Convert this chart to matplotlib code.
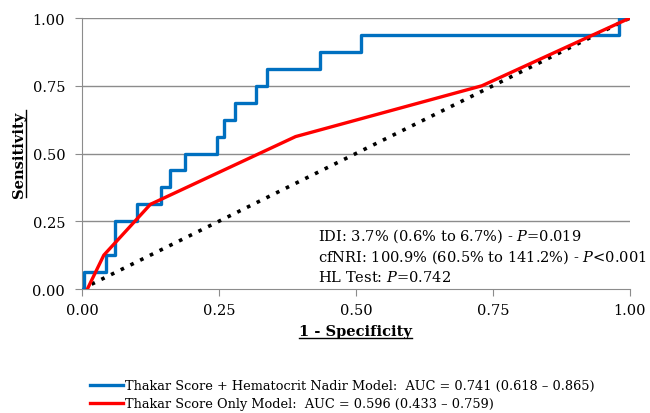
import numpy as np
import matplotlib
matplotlib.use('Agg')
import matplotlib.pyplot as plt
from matplotlib.lines import Line2D

# ROC points (1 - specificity, sensitivity)
combo_fpr = [0.0, 0.004, 0.004, 0.044, 0.044, 0.060, 0.060, 0.100, 0.100, 0.145, 0.145,
             0.160, 0.160, 0.189, 0.189, 0.247, 0.247, 0.259, 0.259, 0.279, 0.279,
             0.317, 0.317, 0.337, 0.337, 0.434, 0.434, 0.510, 0.510, 0.981, 0.981, 1.0]
combo_tpr = [0.0, 0.0, 0.0625, 0.0625, 0.125, 0.125, 0.25, 0.25, 0.3125, 0.3125, 0.375,
             0.375, 0.4375, 0.4375, 0.5, 0.5, 0.5625, 0.5625, 0.625, 0.625, 0.6875,
             0.6875, 0.75, 0.75, 0.8125, 0.8125, 0.875, 0.875, 0.9375, 0.9375, 1.0, 1.0]
thakar_fpr = [0.01, 0.04, 0.125, 0.39, 0.73, 1.0]
thakar_tpr = [0.0, 0.125, 0.3125, 0.5625, 0.75, 1.0]

combo_label = "Thakar Score + Hematocrit Nadir Model:  AUC = 0.741 (0.618 \u2013 0.865)"
thakar_label = "Thakar Score Only Model:  AUC = 0.596 (0.433 \u2013 0.759)"
stats_lines = ["IDI: 3.7% (0.6% to 6.7%) - $P$=0.019",
               "cfNRI: 100.9% (60.5% to 141.2%) - $P$<0.001",
               "HL Test: $P$=0.742"]
ticks = [0.0, 0.25, 0.5, 0.75, 1.0]

plt.rcParams['font.family'] = ['DejaVu Serif']
plt.rcParams['mathtext.fontset'] = 'dejavuserif'

fig = plt.figure(figsize=(6.5, 4.14), dpi=100)
ax = fig.add_axes([0.126, 0.2995, 0.843, 0.6545])

grid_c = '#8c8c8c'
for t in ticks[1:]:
    ax.axhline(t, color=grid_c, lw=1.0, zorder=0)

ax.plot([0, 1], [0, 1], color='black', ls=(0, (1, 2)), lw=2.6, zorder=2)
ax.plot(combo_fpr, combo_tpr, color='#0070C0', lw=2.4, zorder=3)
ax.plot(thakar_fpr, thakar_tpr, color='#FF0000', lw=2.4, zorder=4)

ax.set_xlim(0, 1)
ax.set_ylim(0, 1)
ax.set_xticks(ticks)
ax.set_yticks(ticks)
ax.set_xticklabels([f"{t:.2f}" for t in ticks])
ax.set_yticklabels([f"{t:.2f}" for t in ticks])
ax.tick_params(labelsize=10.5, color=grid_c, length=5, direction='out')
ax.tick_params(axis='y', pad=7)
ax.tick_params(axis='x', pad=5)
for s in ['top', 'right']:
    ax.spines[s].set_visible(False)
for s in ['left', 'bottom']:
    ax.spines[s].set_color(grid_c)

xl = ax.set_xlabel("1 - Specificity", fontsize=10.5, fontweight='bold', labelpad=5)
yl = ax.set_ylabel("Sensitivity", fontsize=10.5, fontweight='bold', labelpad=5)

for txt, yy in zip(stats_lines, [0.199, 0.122, 0.048]):
    ax.text(0.43, yy, txt, fontsize=10.5, va='center')

handles = [Line2D([], [], color='#0070C0', lw=2.4), Line2D([], [], color='#FF0000', lw=2.4)]
fig.legend(handles, [combo_label, thakar_label], loc='upper left', bbox_to_anchor=(0.138, 0.082),
           frameon=False, fontsize=9.3, handlelength=2.55, handletextpad=0.15, labelspacing=0.4,
           borderpad=0, borderaxespad=0)

# underline the axis titles
fig.canvas.draw()
r = fig.canvas.get_renderer()
inv = fig.transFigure.inverted()
bb = xl.get_window_extent(r)
(x0, y0), (x1, y1) = inv.transform([[bb.x0, bb.y0], [bb.x1, bb.y1]])
fig.add_artist(Line2D([x0, x1], [y0 - 0.001, y0 - 0.001], color='black', lw=1.0, transform=fig.transFigure))
bb = yl.get_window_extent(r)
(x0, y0), (x1, y1) = inv.transform([[bb.x0, bb.y0], [bb.x1, bb.y1]])
fig.add_artist(Line2D([x1 + 0.001, x1 + 0.001], [y0, y1], color='black', lw=1.0, transform=fig.transFigure))

fig.savefig('out.png', dpi=100)
